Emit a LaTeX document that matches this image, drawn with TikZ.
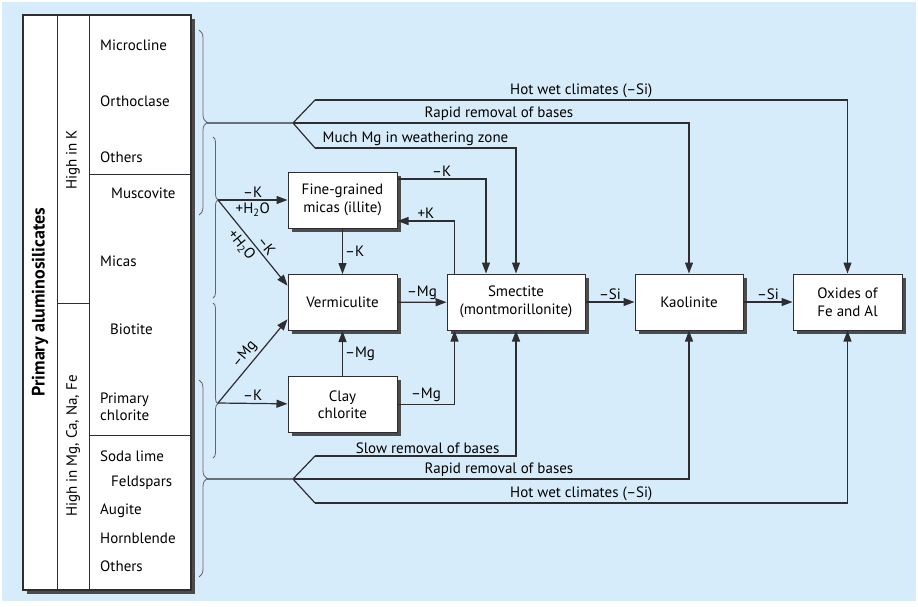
\documentclass[tikz,border=0pt]{standalone}
\usepackage{fontspec}
\setmainfont{PT Sans}
\usetikzlibrary{arrows.meta,shadows,decorations.pathreplacing}
\definecolor{bgblue}{RGB}{215,236,250}
\definecolor{ink}{RGB}{45,45,50}
\tikzset{>={Stealth[length=11pt,width=8pt,inset=0pt]}}
\tikzset{
  box/.style={draw=ink, fill=white, line width=1pt, align=center, minimum width=109pt, minimum height=56pt, inner sep=2pt,
    drop shadow={shadow xshift=3.5pt, shadow yshift=-3.5pt, fill=black!70, opacity=1}},
  flow/.style={->, line width=1.2pt, draw=ink},
  plain/.style={line width=1.2pt, draw=ink},
  brc/.style={decorate, decoration={brace, amplitude=#1}, line width=0.8pt, draw=black!60},
  brc/.default=5pt,
  mineral/.style={anchor=west, inner sep=0pt, align=left},
  tag/.style={inner sep=2pt},
  slant/.style={sloped, inner sep=3pt},
}

\begin{document}
\begin{tikzpicture}[x=1pt,y=-1pt,font=\fontsize{15}{17.5}\selectfont]
  \useasboundingbox (0,0) rectangle (918,606);
  \fill[bgblue] (2,2) rectangle (916,601);
  % mineral table
  \fill[black!70] (27,19) rectangle (195,594);
  \draw[fill=white, line width=1.2pt, draw=ink] (23,15) rectangle (191,590);
  \draw[line width=0.9pt, draw=ink] (57,15) -- (57,590) (89,15) -- (89,590) (57,303) -- (89,303)
    (89,174) -- (191,174) (89,435) -- (191,435);
  \node[rotate=90, font=\fontsize{18}{20}\selectfont\bfseries] (prim) at (40,302) {Primary aluminosilicates};
  \node[rotate=90] (highk) at (73,160) {High in K};
  \node[rotate=90] (highmg) at (73,446) {High in Mg, Ca, Na, Fe};
  \node[mineral] (mcl) at (100,45) {Microcline};
  \node[mineral] (ort) at (100,101) {Orthoclase};
  \node[mineral] (oth1) at (100,157) {Others};
  \node[mineral] (mus) at (111,193) {Muscovite};
  \node[mineral] (mic) at (100,261) {Micas};
  \node[mineral] (bio) at (110,329) {Biotite};
  \node[mineral] (pch) at (100,407) {Primary\\chlorite};
  \node[mineral] (soda) at (100,456) {Soda lime};
  \node[mineral] (fsp) at (111,483) {Feldspars};
  \node[mineral] (aug) at (100,511) {Augite};
  \node[mineral] (hbl) at (100,538) {Hornblende};
  \node[mineral] (oth2) at (100,566) {Others};
  % braces
  \draw[brc=8pt] (199,30) -- (199,215);
  \draw[brc, decoration={aspect=0.39}] (213,137) -- (213,298);
  \draw[brc, decoration={aspect=0.65}] (213,303) -- (213,458);
  \draw[brc=8pt] (199,380) -- (199,577);
  % clay minerals
  \node[box] (illite) at (342.5,200) {Fine-grained\\micas (illite)};
  \node[box] (verm) at (342.5,302.5) {Vermiculite};
  \node[box] (clay) at (342.5,404.5) {Clay\\chlorite};
  \node[box, minimum width=138pt] (smec) at (516,302) {Smectite\\(montmorillonite)};
  \node[box, minimum width=108pt] (kaol) at (689,302) {Kaolinite};
  \node[box] (oxid) at (847.5,302) {Oxides of\\Fe and Al};
  \coordinate (ktip) at (207,123);
  \coordinate (ksplit) at (293,123);
  \coordinate (khot) at (315,100);
  \coordinate (kmg) at (315,148);
  \coordinate (mtip) at (207,479);
  \coordinate (msplit) at (293,479);
  \coordinate (mslow) at (315,456);
  \coordinate (mhot) at (315,503);
  \coordinate (micas) at (218,200);
  \coordinate (chlor) at (218,403);
  % weathering paths
  \draw[flow] (micas) -- node[tag, above] (l1) {--K} node[tag, below, inner sep=2.5pt] (l2) {+H\textsubscript{2}O} (illite);
  \draw[flow] (micas) -- node[slant, above, pos=0.6] (l3) {--K} node[slant, below, pos=0.45] (l4) {+H\textsubscript{2}O} (verm.163);
  \draw[flow] (chlor) -- node[tag, above] (l5) {--K} (clay);
  \draw[flow] (chlor) -- node[slant, above, pos=0.5] (l6) {--Mg} (verm.197);
  \draw[flow] (illite) -- node[tag, right] (l7) {--K} (verm);
  \draw[flow] (clay) -- node[tag, right] (l8) {--Mg} (verm);
  \draw[flow] (verm) -- node[tag, above] (l9) {--Mg} (smec);
  \draw[flow] (clay.east) -| node[tag, pos=0.25, above] (l10) {--Mg} ([xshift=8pt]smec.south west);
  \draw[flow] ([yshift=21pt]illite.east) -| node[tag, pos=0.25, above] (l11) {--K} ([xshift=-30pt]smec.north);
  \draw[flow] ([xshift=8pt]smec.north west) |- node[tag, pos=0.75, above] (l12) {+K} ([yshift=-21pt]illite.east);
  \draw[flow] (smec) -- node[tag, above] (l13) {--Si} (kaol);
  \draw[flow] (kaol) -- node[tag, above] (l14) {--Si} (oxid);
  % high in K
  \draw[plain] (ktip) -- (ksplit) -- (khot) (ksplit) -- (kmg);
  \draw[flow] (khot) -| node[tag, pos=0.25, above] (l15) {Hot wet climates (--Si)} (oxid);
  \draw[flow] (ksplit) -| node[tag, pos=0.26, above] (l16) {Rapid removal of bases} (kaol);
  \draw[flow] (kmg) -| node[tag, pos=0.25, above] (l17) {Much Mg in weathering zone} (smec);
  % high in Mg, Ca, Na, Fe
  \draw[plain] (mtip) -- (msplit) -- (mslow) (msplit) -- (mhot);
  \draw[flow] (mslow) -| node[tag, pos=0.28, above] (l18) {Slow removal of bases} (smec);
  \draw[flow] (msplit) -| node[tag, pos=0.26, above] (l19) {Rapid removal of bases} (kaol);
  \draw[flow] (mhot) -| node[tag, pos=0.25, above] (l20) {Hot wet climates (--Si)} (oxid);
\end{tikzpicture}
\end{document}
